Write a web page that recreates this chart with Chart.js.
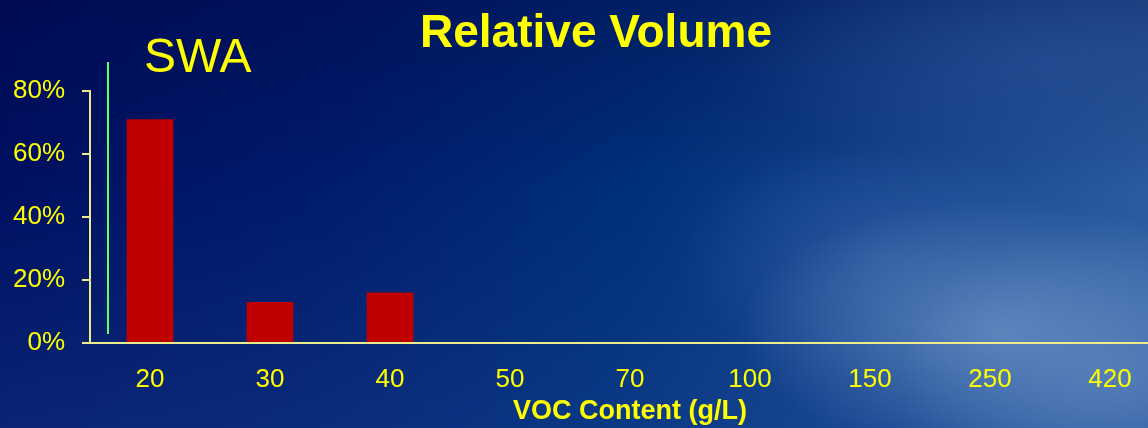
<!DOCTYPE html>
<html>
<head>
<meta charset="utf-8">
<script src="https://cdn.jsdelivr.net/npm/chart.js@4"></script>
<style>
  html, body { margin: 0; padding: 0; overflow: hidden; width: 1148px; height: 428px; }
  body {
    background:
      radial-gradient(ellipse 260px 130px at 1000px 330px, rgba(110,150,200,0.7), rgba(110,150,200,0) 100%),
      radial-gradient(ellipse 220px 160px at 1120px 380px, rgba(90,130,190,0.65), rgba(90,130,190,0) 100%),
      radial-gradient(ellipse 200px 120px at 880px 260px, rgba(60,100,170,0.5), rgba(60,100,170,0) 100%),
      radial-gradient(ellipse 320px 110px at 1050px 60px, rgba(40,85,155,0.55), rgba(40,85,155,0) 100%),
      linear-gradient(180deg, rgba(0,0,60,0.35) 0%, rgba(0,0,60,0) 45%, rgba(30,70,150,0.35) 100%),
      linear-gradient(100deg, #000f60 0%, #001c6c 30%, #00307a 55%, #1a4a92 80%, #2e5fa2 100%);
  }
  canvas { position: absolute; left: 0; top: 0; }
</style>
</head>
<body>
<canvas id="volumeChart" width="1180" height="428"></canvas>
<script>
const vocLabels = ['20', '30', '40', '50', '70', '100', '150', '250', '420'];
const swaVolume = [71, 13, 16, 0, 0, 0, 0, 0, 0];
const yTicks = [0, 20, 40, 60, 80];

const yellow = '#ffff00';
const axisColor = '#ecec8c';

// title, panel label and the green marker line
const decorations = {
    id: 'decorations',
    afterDraw(chart) {
        const ctx = chart.ctx;
        const area = chart.chartArea;
        ctx.save();
        ctx.fillStyle = yellow;
        ctx.textBaseline = 'alphabetic';
        ctx.textAlign = 'center';
        ctx.font = 'bold 46px "Liberation Sans", Arial, sans-serif';
        ctx.fillText('Relative Volume', 596, 47);
        ctx.textAlign = 'left';
        ctx.font = '48px "Liberation Sans", Arial, sans-serif';
        ctx.fillText('SWA', 144, 72);

        ctx.strokeStyle = '#66ff66';
        ctx.lineWidth = 2;
        ctx.beginPath();
        ctx.moveTo(area.left + 18, area.top - 29);
        ctx.lineTo(area.left + 18, area.bottom - 9);
        ctx.stroke();
        ctx.restore();
    }
};

const ctx = document.getElementById('volumeChart').getContext('2d');
new Chart(ctx, {
    type: 'bar',
    data: {
        labels: vocLabels,
        datasets: [{
            label: 'SWA',
            data: swaVolume,
            backgroundColor: '#c00000',
            borderWidth: 0,
            barPercentage: 0.39,
            categoryPercentage: 1.0
        }]
    },
    options: {
        responsive: false,
        animation: false,
        layout: { padding: { top: 91, left: 0, right: 10, bottom: 0 } },
        plugins: {
            legend: { display: false },
            title: { display: false },
            tooltip: { enabled: false }
        },
        scales: {
            x: {
                grid: { display: true, drawOnChartArea: false, drawTicks: false, color: 'rgba(0,0,0,0)' },
                border: { display: true, color: axisColor, width: 2 },
                ticks: {
                    color: yellow,
                    padding: 21,
                    maxRotation: 0,
                    autoSkip: false,
                    font: { family: '"Liberation Sans", Arial, sans-serif', size: 26 }
                },
                title: {
                    display: true,
                    text: 'VOC Content (g/L)',
                    color: yellow,
                    padding: { top: 0, bottom: 0 },
                    font: { family: '"Liberation Sans", Arial, sans-serif', size: 27, weight: 'bold' }
                },
                afterFit(scale) { scale.height = 85; }
            },
            y: {
                min: 0,
                max: 80,
                afterBuildTicks(scale) { scale.ticks = yTicks.map(v => ({ value: v })); },
                grid: { drawOnChartArea: false, drawTicks: true, tickLength: 8, color: axisColor, lineWidth: 2 },
                border: { display: true, color: axisColor, width: 2 },
                ticks: {
                    color: yellow,
                    padding: 17,
                    callback: v => v + '%',
                    font: { family: '"Liberation Sans", Arial, sans-serif', size: 26 }
                },
                afterFit(scale) { scale.width = 90; }
            }
        }
    },
    plugins: [decorations]
});
</script>
</body>
</html>
